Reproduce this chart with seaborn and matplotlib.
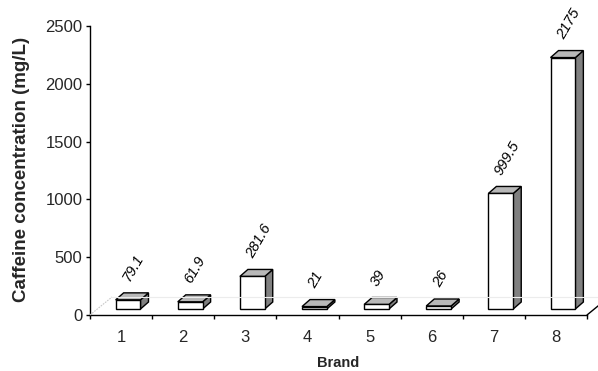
import numpy as np
import matplotlib
matplotlib.use("Agg")
import matplotlib.pyplot as plt
import matplotlib.transforms as mtransforms
from matplotlib.patches import Polygon
from matplotlib.lines import Line2D
import seaborn as sns

# Caffeine concentration per brand
brands = ["1", "2", "3", "4", "5", "6", "7", "8"]
caffeine = [79.1, 61.9, 281.6, 21, 39, 26, 999.5, 2175]
y_ticks = [0, 500, 1000, 1500, 2000, 2500]

sns.set_style("white")
plt.rcParams["font.family"] = ["Liberation Sans", "DejaVu Sans"]

DPI = 100
fig = plt.figure(figsize=(5.98, 3.71), dpi=DPI)
ax = fig.add_axes([90 / 598, 56 / 371, 497 / 598, 289 / 371])

sns.barplot(x=brands, y=caffeine, color="white", saturation=1,
            edgecolor="black", linewidth=1.0, width=0.40, ax=ax)

ax.set_xlim(-0.5, 7.5)
ax.set_ylim(0, 2500)

# pseudo-3D geometry (in pixels): bars sit partway into the floor
front = (7, 6)      # shift of the bar front from the axis plane
depth = (8, 7)      # depth of each bar
floor = (22, 18)    # depth of the floor

shift = mtransforms.Affine2D().translate(*front)
ident = mtransforms.IdentityTransform()

top_color = "#b8b8b8"
side_color = "#808080"

for patch, val in zip(ax.patches, caffeine):
    x0 = patch.get_x()
    x1 = x0 + patch.get_width()
    (px0, py0), (px1, py1) = ax.transData.transform([(x0, 0), (x1, val)])
    px0 += front[0]; px1 += front[0]
    py0 += front[1]; py1 += front[1]
    dx, dy = depth
    side = Polygon([(px1, py0), (px1, py1), (px1 + dx, py1 + dy), (px1 + dx, py0 + dy)],
                   closed=True, facecolor=side_color, edgecolor="black",
                   linewidth=1.0, transform=ident, clip_on=False, zorder=2)
    top = Polygon([(px0, py1), (px1, py1), (px1 + dx, py1 + dy), (px0 + dx, py1 + dy)],
                  closed=True, facecolor=top_color, edgecolor="black",
                  linewidth=1.0, transform=ident, clip_on=False, zorder=2)
    ax.add_artist(side)
    ax.add_artist(top)
    patch.set_transform(ax.transData + shift)
    patch.set_zorder(3)
    patch.set_clip_on(False)
    ax.annotate(f"{val:g}", xy=(x0, val), xytext=(front[0] + 4, front[1] + 16),
                textcoords="offset pixels", rotation=60, ha="left", va="bottom",
                fontsize=10.5, fontstyle="italic", color="black", annotation_clip=False)

# floor outline
(lx, ly), (rx, ry) = ax.transData.transform([(-0.5, 0), (7.5, 0)])
fx, fy = floor
fig.add_artist(Line2D([lx, lx + fx], [ly, ly + fy], transform=ident,
                      color="#c8c8c8", linewidth=0.8, linestyle=(0, (1.5, 1))))
fig.add_artist(Line2D([lx + fx, rx + fx], [ly + fy, ry + fy], transform=ident,
                      color="#ececec", linewidth=0.8))
fig.add_artist(Line2D([rx, rx + fx], [ry, ry + fy], transform=ident,
                      color="black", linewidth=1.0))

# axes styling
for s in ("top", "right"):
    ax.spines[s].set_visible(False)
for s in ("left", "bottom"):
    ax.spines[s].set_color("black")
    ax.spines[s].set_linewidth(1.0)

ax.set_xticks(np.arange(-0.5, 8, 1))
ax.set_xticks(range(len(brands)), minor=True)
ax.set_xticklabels(brands, minor=True)
ax.tick_params(axis="x", which="major", direction="out", length=3.2, width=1.0,
               color="black", bottom=True, labelbottom=False)
ax.tick_params(axis="x", which="minor", length=0, labelsize=12, pad=10.8)

ax.set_yticks(y_ticks)
ax.set_yticklabels([str(t) for t in y_ticks])
ax.tick_params(axis="y", direction="out", length=2.9, width=1.0, color="black",
               left=True, labelsize=12, pad=2.4)

ax.set_ylabel("Caffeine concentration (mg/L)", fontsize=13.5, fontweight="bold")
ax.yaxis.set_label_coords(-0.121, 0.505)
ax.set_xlabel("Brand", fontsize=10.5, fontweight="bold")
ax.xaxis.set_label_coords(0.5, -0.179)
ax.xaxis.label.set_va("baseline")

ax.grid(False)
fig.savefig("out.png", dpi=DPI)
